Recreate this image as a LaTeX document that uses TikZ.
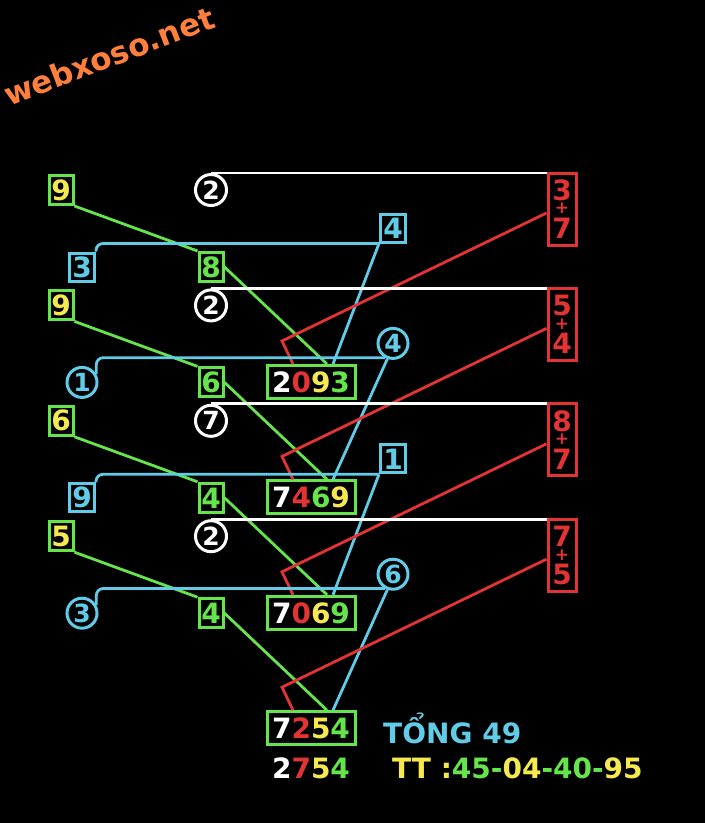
\documentclass[tikz,border=0pt]{standalone}
\usepackage{fontspec}
\setmainfont{DejaVu Sans Bold}
\usetikzlibrary{calc}
\definecolor{gr}{RGB}{102,228,76}
\definecolor{ye}{RGB}{245,232,80}
\definecolor{cy}{RGB}{96,204,232}
\definecolor{rd}{RGB}{226,52,52}
\definecolor{og}{RGB}{255,128,60}
\begin{document}
\begin{tikzpicture}[x=1pt,y=-1pt,
  dig/.style={font=\fontsize{28}{28}\selectfont},
  ybox/.style={draw=gr, line width=3pt, minimum width=24pt, minimum height=29pt, inner sep=0pt, text=ye, dig},
  gbox/.style={ybox, text=gr},
  cbox/.style={draw=cy, line width=3pt, minimum width=25pt, minimum height=28pt, inner sep=0pt, text=cy, dig},
  ccirc/.style={circle, draw=cy, line width=3pt, minimum size=30pt, inner sep=0pt, text=cy, font=\fontsize{25}{25}\selectfont},
  wcirc/.style={ccirc, draw=white, text=white, minimum size=31pt},
  rbox/.style={draw=rd, line width=3pt, minimum width=28pt, minimum height=72pt, inner sep=0pt},
  rtxt/.style={text=rd, inner sep=0pt, dig},
  tbox/.style={draw=gr, line width=3pt, minimum width=88pt, minimum height=33pt, inner sep=0pt, dig},
  gline/.style={draw=gr, line width=2.8pt},
  cline/.style={draw=cy, line width=2.8pt},
  wline/.style={draw=white, line width=2.8pt},
  rline/.style={draw=rd, line width=2.8pt},
  plain/.style={inner sep=0pt, dig}
]
\fill[black] (0,0) rectangle (705,823);
\useasboundingbox (0,0) rectangle (705,823);

\node[rotate=21, text=og, font=\fontsize{31}{31}\selectfont] (wm) at (109,56) {webxoso.net};

\foreach \i/\yv/\wv/\ra/\rb/\cv/\ct/\ca/\cb/\lv/\lt/\la/\gv/\tt in {
  0/9/2/3/7/4/cbox/south west/south west/3/cbox/north east/8/{\textcolor{white}{2}\textcolor{rd}{0}\textcolor{ye}{9}\textcolor{gr}{3}},
  1/9/2/5/4/4/ccirc/240/250/1/ccirc/30/6/{\textcolor{white}{7}\textcolor{rd}{4}\textcolor{gr}{6}\textcolor{ye}{9}},
  2/6/7/8/7/1/cbox/south west/south west/9/cbox/north east/4/{\textcolor{white}{7}\textcolor{rd}{0}\textcolor{ye}{6}\textcolor{gr}{9}},
  3/5/2/7/5/6/ccirc/240/250/3/ccirc/30/4/{\textcolor{white}{7}\textcolor{rd}{2}\textcolor{ye}{5}\textcolor{gr}{4}}}{
  \pgfmathsetmacro{\y}{190+115.4*\i}
  \node[ybox] (Y\i) at (61,\y) {\yv};
  \node[wcirc] (W\i) at (211,\y) {\wv};
  \node[rbox] (R\i) at (562,\y+19) {};
  \node[rtxt] (Ra\i) at (562,\y) {\ra};
  \node[rtxt, font=\fontsize{17}{17}\selectfont] (Rp\i) at (562,\y+18.5) {+};
  \node[rtxt] (Rb\i) at (562,\y+38) {\rb};
  \node[\ct] (C\i) at (393,\y+38) {\cv};
  \node[\lt] (L\i) at (82,\y+77) {\lv};
  \node[gbox] (G\i) at (211,\y+77) {\gv};
  \node[tbox] (T\i) at (311,\y+192) {\tt};
  % connectors
  \draw[wline] (W\i.north) -- (W\i.north -| R\i.west);
  \draw[gline] (Y\i.south east) -- (G\i.north west);
  \draw[gline] (G\i.east) -- ($(T\i.north)+(16,0)$);
  \draw[cline, rounded corners=7pt] (L\i.\la) |- (C\i.\ca);
  \draw[cline] (C\i.\cb) -- ($(T\i.north)+(22,0)$);
  \draw[rline] ($(R\i.west)+(0,4)$) -- ($(T\i.north)+(-29,-23)$) -- ($(T\i.north)+(-18,0)$);
}

\node[plain, anchor=west, text=cy] (tong) at (383,728.5) {TỔNG 49};
\node[plain] (res) at (311,768) {\textcolor{white}{2}\textcolor{rd}{7}\textcolor{ye}{5}\textcolor{gr}{4}};
\node[plain, anchor=west] (tt) at (392,768) {\textcolor{ye}{TT :}\textcolor{gr}{45-}\textcolor{ye}{04}\textcolor{gr}{-40-}\textcolor{ye}{95}};
\end{tikzpicture}
\end{document}
